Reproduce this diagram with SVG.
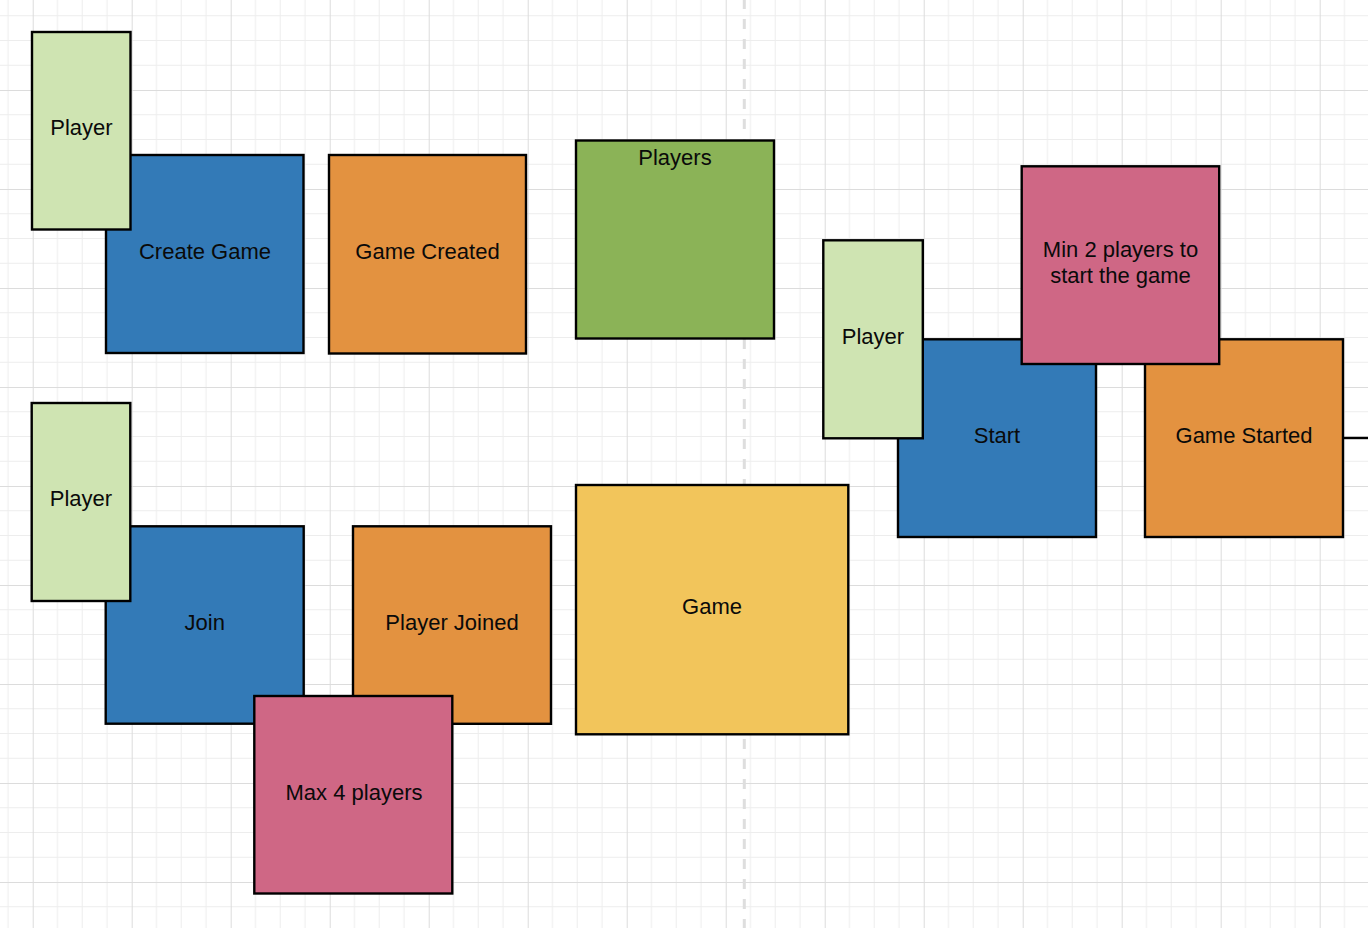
<svg xmlns="http://www.w3.org/2000/svg" width="1368" height="928" viewBox="0 0 1368 928">
<defs>
<pattern id="grid" patternUnits="userSpaceOnUse" x="32.7" y="90" width="99" height="99">
<path d="M24.75 0V99M49.5 0V99M74.25 0V99M0 24.75H99M0 49.5H99M0 74.25H99" stroke="#ededed" stroke-width="1" fill="none"/>
<path d="M0.5 0V99M0 0.5H99" stroke="#dcdcdc" stroke-width="1" fill="none"/>
</pattern>
</defs>
<style>
.box{stroke:#000;stroke-width:2.4}
.actor{fill:#cfe4b2}
.cmd{fill:#337ab7}
.evt{fill:#e39240}
.rule{fill:#cf6785}
.agg{fill:#f2c55b}
.rm{fill:#8bb357}
text{font-family:"Liberation Sans",Arial,sans-serif;font-size:22px;fill:#0a0a0a;text-anchor:middle}
.conn{stroke:#000;stroke-width:2.4;fill:none}
</style>
<rect width="1368" height="928" fill="#fff"/>
<rect width="1368" height="928" fill="url(#grid)"/>
<line x1="744.3" y1="0" x2="744.3" y2="928" stroke="#dedede" stroke-width="3" stroke-dasharray="10 10" stroke-dashoffset="1"/>
<g id="connectors">
<line class="conn" x1="1343" y1="438" x2="1368" y2="438"/>
</g>
<g id="create-game"><rect class="box cmd" x="106" y="155" width="197.5" height="198"/><text x="205" y="258.5">Create Game</text></g>
<g id="player-1"><rect class="box actor" x="32" y="32" width="98.5" height="197.5"/><text x="81.5" y="135">Player</text></g>
<g id="game-created"><rect class="box evt" x="329" y="155" width="197" height="198.5"/><text x="427.5" y="258.5">Game Created</text></g>
<g id="players"><rect class="box rm" x="576" y="140.5" width="198" height="198"/><text x="675" y="164.5">Players</text></g>
<g id="join"><rect class="box cmd" x="105.7" y="526.3" width="198" height="197.4"/><text x="204.7" y="629.5">Join</text></g>
<g id="player-2"><rect class="box actor" x="31.7" y="403" width="98.6" height="198"/><text x="81" y="506">Player</text></g>
<g id="player-joined"><rect class="box evt" x="353" y="526.3" width="198" height="197.5"/><text x="452" y="629.5">Player Joined</text></g>
<g id="max-4-players"><rect class="box rule" x="254.3" y="696" width="198" height="197.5"/><text x="354" y="799.5">Max 4 players</text></g>
<g id="game"><rect class="box agg" x="576" y="485" width="272.3" height="249.3"/><text x="712" y="614">Game</text></g>
<g id="start"><rect class="box cmd" x="898" y="339.3" width="198" height="197.7"/><text x="997" y="443">Start</text></g>
<g id="player-3"><rect class="box actor" x="823.3" y="240.3" width="99.5" height="198"/><text x="873" y="343.5">Player</text></g>
<g id="game-started"><rect class="box evt" x="1145" y="339.3" width="198" height="197.7"/><text x="1244" y="443">Game Started</text></g>
<g id="min-2-players"><rect class="box rule" x="1021.7" y="166.3" width="197.5" height="197.7"/><text x="1120.5" y="257.3">Min 2 players to</text><text x="1120.5" y="283.3">start the game</text></g>
</svg>
